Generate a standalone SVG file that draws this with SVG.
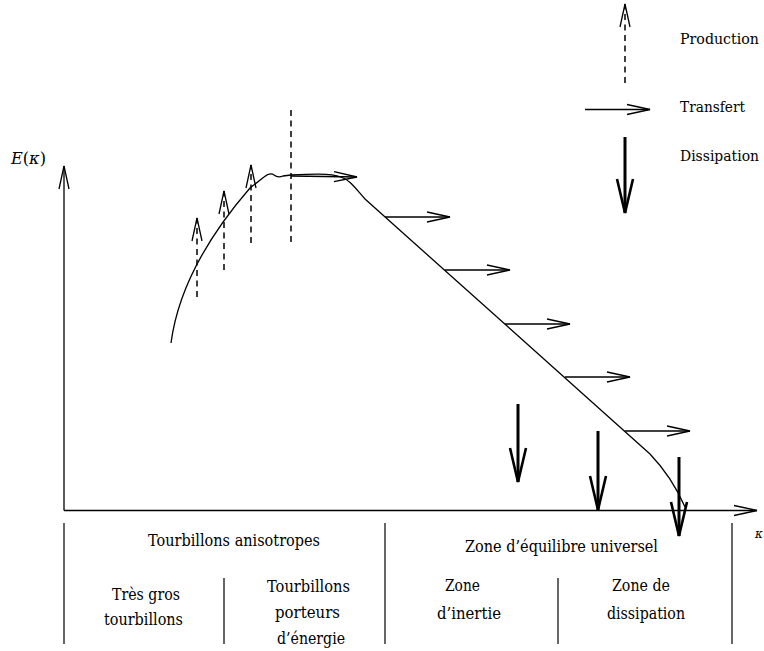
<svg xmlns="http://www.w3.org/2000/svg" width="764" height="651" viewBox="0 0 764 651" font-family="DejaVu Serif, serif" font-size="16">
<style>
.ln{fill:none;stroke:#000;stroke-width:1.3}
.dash{fill:none;stroke:#000;stroke-width:1.5;stroke-dasharray:6 4.5}
.thin{fill:none;stroke:#000;stroke-width:1.3}
.thick{fill:none;stroke:#000;stroke-width:3}
.sep{stroke:#000;stroke-width:1.2}
</style>
<defs>
<marker id="open" markerUnits="userSpaceOnUse" orient="auto" markerWidth="30" markerHeight="14" refX="0" refY="0" viewBox="-26 -7 28 14" overflow="visible">
<path d="M-23,-5 L0,0 L-23,5" fill="none" stroke="#000" stroke-width="1.3"/>
</marker>
<marker id="heavy" markerUnits="userSpaceOnUse" orient="auto" markerWidth="40" markerHeight="20" refX="0" refY="0" viewBox="-38 -10 40 20" overflow="visible">
<path d="M-34,-8 L0,0 L-34,8" fill="none" stroke="#000" stroke-width="2.6" stroke-linejoin="miter"/>
</marker>
</defs>

<g id="axes">
<line class="thin" x1="64" y1="510.5" x2="64" y2="166" marker-end="url(#open)"/>
<line class="thin" x1="64" y1="510.5" x2="757" y2="510.5" marker-end="url(#open)"/>
<text x="11" y="164" font-family="DejaVu Serif, serif" textLength="35" lengthAdjust="spacingAndGlyphs"><tspan font-style="italic">E</tspan>(<tspan font-style="italic">κ</tspan>)</text>
<text x="755" y="538" font-style="italic" font-size="12" font-family="DejaVu Serif, serif">κ</text>
</g>

<g id="spectrum">
<path class="ln" d="M171,343 C178,290 205,240 250,188 L264,177 Q270,172 274,175 Q278,178 283,176 L291,175 C310,174 330,173 341,177 C350,180 356,189 365,199 L650,454 Q672,477 685,507"/>
</g>

<g id="connectors">
<line class="dash" x1="197" y1="297" x2="197" y2="218" marker-end="url(#open)"/>
<line class="dash" x1="224" y1="270" x2="224" y2="191" marker-end="url(#open)"/>
<line class="dash" x1="251" y1="243" x2="251" y2="165" marker-end="url(#open)"/>
<line class="dash" x1="291" y1="110" x2="291" y2="243"/>
<line class="thin" x1="291" y1="176" x2="357" y2="177" marker-end="url(#open)"/>
<line class="thin" x1="385" y1="217" x2="450" y2="217" marker-end="url(#open)"/>
<line class="thin" x1="445" y1="270" x2="510" y2="270" marker-end="url(#open)"/>
<line class="thin" x1="505" y1="324" x2="570" y2="324" marker-end="url(#open)"/>
<line class="thin" x1="565" y1="377" x2="630" y2="377" marker-end="url(#open)"/>
<line class="thin" x1="625" y1="431" x2="690" y2="431" marker-end="url(#open)"/>
<line class="thick" x1="518" y1="404" x2="518" y2="482" marker-end="url(#heavy)"/>
<line class="thick" x1="598" y1="431" x2="598" y2="510" marker-end="url(#heavy)"/>
<line class="thick" x1="679" y1="457" x2="679" y2="536" marker-end="url(#heavy)"/>
</g>

<g id="legend" font-family="DejaVu Serif, serif" font-size="14.5">
<line class="dash" x1="625" y1="83" x2="625" y2="4" marker-end="url(#open)"/>
<line class="thin" x1="585" y1="109.5" x2="650" y2="109.5" marker-end="url(#open)"/>
<line class="thick" x1="625" y1="137" x2="625" y2="213" marker-end="url(#heavy)"/>
<text x="680" y="44" textLength="79" lengthAdjust="spacingAndGlyphs">Production</text>
<text x="680" y="112" textLength="65" lengthAdjust="spacingAndGlyphs">Transfert</text>
<text x="680" y="161" textLength="79" lengthAdjust="spacingAndGlyphs">Dissipation</text>
</g>

<g id="zones">
<line class="sep" x1="64" y1="523" x2="64" y2="644"/>
<line class="sep" x1="385" y1="523" x2="385" y2="644"/>
<line class="sep" x1="732" y1="523" x2="732" y2="644"/>
<line class="sep" x1="224" y1="578" x2="224" y2="644"/>
<line class="sep" x1="558" y1="578" x2="558" y2="644"/>
</g>

<g id="zone-anisotropes" font-family="DejaVu Serif, serif">
<text x="148" y="546" textLength="172" lengthAdjust="spacingAndGlyphs">Tourbillons anisotropes</text>
</g>
<g id="zone-equilibre" font-family="DejaVu Serif, serif">
<text x="465" y="552" textLength="193" lengthAdjust="spacingAndGlyphs">Zone d’équilibre universel</text>
</g>
<g id="zone-gros" font-family="DejaVu Serif, serif">
<text x="112" y="600" textLength="68" lengthAdjust="spacingAndGlyphs">Très gros</text>
<text x="104" y="625" textLength="79" lengthAdjust="spacingAndGlyphs">tourbillons</text>
</g>
<g id="zone-porteurs" font-family="DejaVu Serif, serif">
<text x="267" y="592" textLength="83" lengthAdjust="spacingAndGlyphs">Tourbillons</text>
<text x="275" y="618" textLength="65" lengthAdjust="spacingAndGlyphs">porteurs</text>
<text x="277" y="644" textLength="68" lengthAdjust="spacingAndGlyphs">d’énergie</text>
</g>
<g id="zone-inertie" font-family="DejaVu Serif, serif">
<text x="445" y="591" textLength="35" lengthAdjust="spacingAndGlyphs">Zone</text>
<text x="437" y="619" textLength="64" lengthAdjust="spacingAndGlyphs">d’inertie</text>
</g>
<g id="zone-dissipation" font-family="DejaVu Serif, serif">
<text x="612" y="591" textLength="58" lengthAdjust="spacingAndGlyphs">Zone de</text>
<text x="607" y="619" textLength="78" lengthAdjust="spacingAndGlyphs">dissipation</text>
</g>
</svg>
